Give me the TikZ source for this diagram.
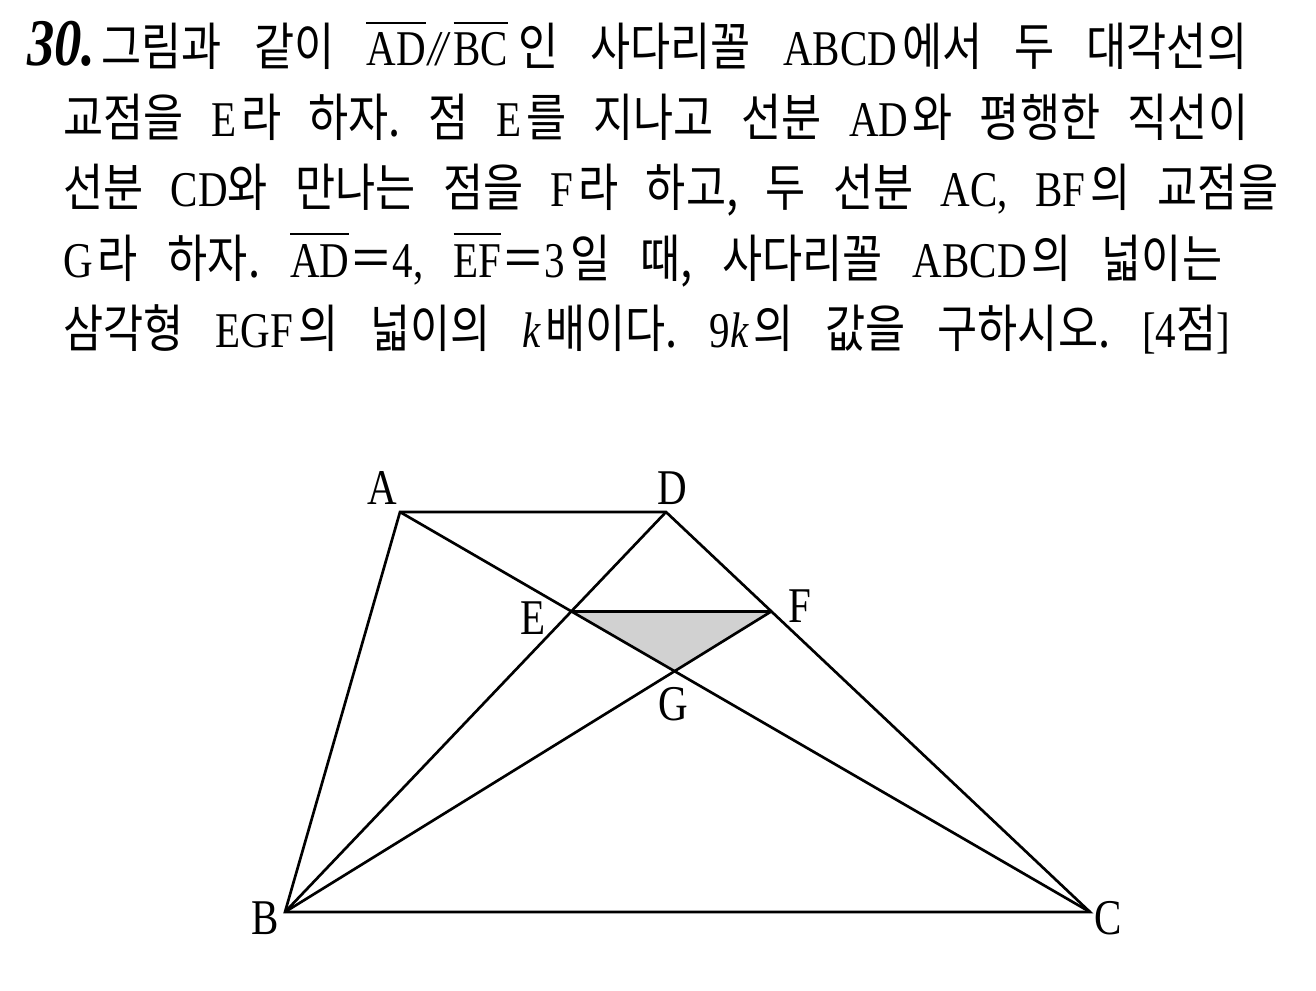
\documentclass[tikz,border=0pt]{standalone}
\usepackage{fontspec}
\setmainfont{Liberation Serif}[FakeStretch=0.82]
\newfontfamily\kr{Noto Sans CJK KR}[FakeStretch=0.85]
\newdimen\p \p=0.75pt
\newcommand\La[1]{{\fontsize{37.5}{42}\selectfont\rmfamily #1}}
\newcommand\ovl[1]{\vbox{\hrule height 1.5pt\kern 7pt\hbox{#1}}}
\tikzset{
  txt/.style={anchor=base west, inner sep=0pt, font=\kr\fontsize{38.5}{42}\selectfont\frenchspacing},
  lbl/.style={inner sep=0pt, font=\fontsize{37.5}{42}\selectfont},
  edge/.style={line width=2pt, line join=miter}
}
\begin{document}
\begin{tikzpicture}[x=0.75pt,y=-0.75pt]
\useasboundingbox (0,0) rectangle (1316,991);
% text
\node[txt] (l1) at (27,66) {\makebox[915pt][s]{{\fontsize{50}{42}\selectfont\rmfamily\textbf{\textit{30.}}}\kern6\p 그림과 같이 \ovl{\La{AD}}\La{\kern3\p\textit{/\kern-4\p/}\kern3\p}\ovl{\La{BC}}\kern10\p 인 사다리꼴 \La{ABCD}\kern5\p 에서 두 대각선의}};
\node[txt] (l2) at (63,137) {\makebox[888.75pt][s]{교점을 \La{E}\kern5\p 라 하자. 점 \La{E}\kern5\p 를 지나고 선분 \La{AD}\kern4\p 와 평행한 직선이}};
\node[txt] (l3) at (63,207) {\makebox[911.25pt][s]{선분 \La{CD}와 만나는 점을 \La{F}\kern5\p 라 하고, 두 선분 \La{AC,} \La{BF}\kern5\p 의 교점을}};
\node[txt] (l4) at (63,277) {\makebox[869.25pt][s]{\La{G}\kern5\p 라 하자. \ovl{\La{AD}}＝\La{4,} \ovl{\La{EF}}＝\La{3}\kern5\p 일 때, 사다리꼴 \La{ABCD}\kern5\p 의 넓이는}};
\node[txt] (l5) at (63,347) {\makebox[875.25pt][s]{삼각형 \La{EGF}\kern5\p 의 넓이의 \La{\textit{k}}\kern4\p 배이다. \La{9\textit{k}}\kern4\p 의 값을 구하시오. \La{[4}점\La{]}}};
% figure
\coordinate (A) at (400,512);
\coordinate (D) at (666,512);
\coordinate (B) at (285,912);
\coordinate (C) at (1090,912);
\coordinate (E) at (571.4,611.4);
\coordinate (F) at (771.3,611.4);
\coordinate (G) at (intersection of A--C and B--F);
\fill[black!18] (E) -- (G) -- (F) -- cycle;
\draw[edge] (A) -- (D) -- (C) -- (B) -- cycle;
\draw[edge] (A) -- (C);
\draw[edge] (B) -- (D);
\draw[edge] (E) -- (F);
\draw[edge] (B) -- (F);
\node[lbl] (lA) at (382,488) {A};
\node[lbl] (lD) at (672,488) {D};
\node[lbl] (lB) at (265,918) {B};
\node[lbl] (lC) at (1108,918) {C};
\node[lbl] (lE) at (533,618) {E};
\node[lbl] (lF) at (800,606) {F};
\node[lbl] (lG) at (673,704) {G};
\end{tikzpicture}
\end{document}
